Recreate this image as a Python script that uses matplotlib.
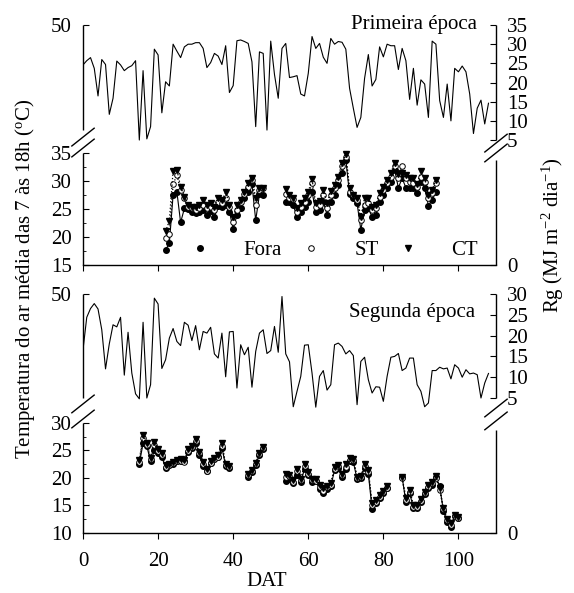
import numpy as np
import matplotlib
matplotlib.use('Agg')
import matplotlib.pyplot as plt
from matplotlib.lines import Line2D

plt.rcParams['font.family'] = 'Liberation Serif'
plt.rcParams['font.size'] = 15
plt.rcParams['mathtext.fontset'] = 'custom'
plt.rcParams['mathtext.rm'] = 'Liberation Serif'
plt.rcParams['mathtext.it'] = 'Liberation Serif:italic'

###---data---###
rg_days = np.arange(0, 109)

# Rg, primeira epoca (MJ m-2 dia-1)
rg_1 = [24.6, 25.7, 26.5, 23.7, 16.5, 26.0, 24.7, 11.7, 15.9, 25.6,
        24.6, 23.1, 23.9, 24.4, 25.7, 5.0, 23.1, 5.3, 8.5, 28.7,
        27.2, 12.1, 20.2, 19.1, 30.0, 28.2, 26.5, 29.3, 30.0, 30.0,
        30.4, 30.4, 28.9, 23.9, 25.2, 27.6, 26.9, 24.7, 29.6, 17.4,
        19.2, 30.9, 31.1, 30.7, 30.2, 25.4, 8.5, 28.0, 27.6, 7.6,
        30.8, 22.1, 15.9, 28.9, 30.2, 21.3, 21.5, 21.8, 17.0, 16.5,
        22.4, 32.0, 28.9, 30.2, 26.6, 25.0, 31.5, 30.0, 30.7, 30.5,
        28.7, 18.5, 13.3, 8.3, 10.9, 21.1, 27.3, 19.1, 20.8, 29.3,
        26.7, 30.0, 29.6, 29.6, 23.4, 28.9, 25.7, 15.6, 23.7, 14.1,
        20.7, 19.6, 10.9, 30.8, 30.0, 15.3, 10.9, 19.6, 10.0, 23.7,
        22.8, 24.3, 22.8, 17.0, 6.7, 13.3, 15.4, 9.2, 14.6]

# Rg, segunda epoca
rg_2 = [16.6, 24.4, 26.5, 27.7, 26.4, 21.4, 12.0, 18.0, 22.6, 22.1,
        24.4, 10.5, 20.8, 11.0, 6.0, 4.8, 23.2, 5.0, 8.2, 29.0,
        27.6, 12.1, 14.2, 19.4, 21.7, 18.6, 17.6, 23.2, 22.5, 18.8,
        22.4, 16.6, 21.0, 20.6, 22.0, 15.6, 14.6, 20.6, 10.1, 20.9,
        21.0, 7.4, 17.8, 15.4, 17.2, 7.6, 16.2, 20.6, 21.4, 15.7,
        16.4, 22.2, 16.0, 29.4, 15.6, 13.7, 2.9, 6.6, 10.2, 17.7,
        17.8, 11.0, 2.8, 10.2, 11.6, 6.9, 8.2, 17.8, 18.2, 17.4,
        15.6, 16.4, 15.2, 3.4, 13.8, 14.8, 9.4, 6.2, 7.7, 7.6,
        4.2, 10.2, 14.8, 15.0, 15.7, 11.6, 12.2, 14.6, 14.6, 8.2,
        6.6, 2.9, 3.8, 11.6, 11.6, 12.4, 12.0, 12.2, 9.6, 13.0,
        12.2, 10.0, 11.8, 10.8, 11.0, 10.6, 5.0, 8.6, 10.9]

# temperatura media, primeira epoca (DAT 22 a 94)
t1_days = np.arange(22, 95)
t1_fora = [17.7, 18.9, 27.5, 28.1, 22.6, 25.1, 25.0, 24.5, 24.2, 24.5,
           24.8, 23.9, 24.6, 23.6, 25.5, 25.4, 25.8, 24.5, 21.5, 23.9,
           25.1, 26.9, 28.1, 29.4, 23.0, 27.6, 27.5,
           None, None, None, None, None,
           26.3, 26.2, 25.7, 23.6, 24.5, 25.4, 26.3, 28.1, 24.5, 24.8,
           26.3, 24.0, 26.3, 27.5, 29.3, 31.4, 33.8, 27.6, 26.9, 26.0,
           21.3, 24.8, 25.1, 23.6, 23.9, 26.3, 27.5, 28.7, 29.9, 32.0,
           28.8, 30.5, 28.8, 28.8, 28.8, 27.9, 29.9, 28.8, 25.6, 26.6,
           28.1]
t1_st = [19.8, 20.5, 29.4, 31.1, 28.4, 26.9, 25.4, 25.2, 24.8, 25.1,
         25.7, 25.1, 25.4, 24.8, 26.2, 26.0, 26.9, 25.4, 22.6, 24.8,
         26.2, 27.6, 29.0, 30.2, 25.7, 28.4, 28.7,
         None, None, None, None, None,
         27.6, 26.9, 26.8, 24.5, 25.4, 26.3, 27.5, 29.6, 25.4, 25.7,
         27.5, 25.1, 27.5, 28.7, 30.2, 32.6, 34.3, 28.1, 27.5, 26.6,
         23.0, 25.7, 26.0, 24.8, 25.1, 27.2, 28.4, 29.6, 30.8, 32.6,
         30.5, 32.7, 30.5, 29.9, 29.6, 29.0, 30.8, 29.9, 26.9, 27.8,
         29.6]
t1_ct = [21.0, 22.9, 31.8, 32.0, 29.0, 27.2, 25.7, 25.4, 25.4, 25.7,
         26.6, 25.8, 26.0, 25.4, 26.9, 26.6, 28.0, 25.8, 23.5, 25.8,
         26.6, 28.1, 29.6, 30.5, 26.9, 28.8, 28.8,
         None, None, None, None, None,
         28.5, 27.5, 27.0, 25.1, 26.0, 26.9, 28.1, 30.3, 26.0, 26.4,
         28.4, 26.0, 28.2, 29.3, 30.8, 33.2, 34.8, 28.8, 27.5, 26.9,
         23.6, 27.0, 26.9, 25.4, 25.8, 27.8, 29.0, 30.2, 31.4, 33.3,
         31.2, 31.4, 31.1, 30.5, 30.6, 29.4, 31.8, 30.5, 27.5, 28.4,
         30.2]

# temperatura media, segunda epoca (DAT 15 a 100)
t2_days = np.arange(15, 101)
t2_fora = [22.6, 26.3, 25.8, 23.0, 25.0, 24.6, 23.8, 21.9, 22.3, 22.6,
           23.0, 23.1, 23.1, 24.7, 25.4, 26.4, 24.2, 22.2, 21.2, 22.8,
           23.4, 23.8, 25.5, 22.2, 21.8,
           None, None, None, None,
           20.2, 21.0, 22.4, 24.2, 25.2,
           None, None, None, None, None,
           19.5, 19.8, 19.0, 20.6, 19.3, 21.6, 20.5, 19.3, 19.4, 18.0,
           17.2, 18.0, 18.5, 21.4, 21.8, 20.2, 21.6, 23.0, 22.9, 19.8,
           20.0, 21.9, 20.8, 14.3, 15.4, 16.4, 17.2, 18.1,
           None, None, None,
           20.2, 15.6, 17.2, 14.6, 14.6, 15.7, 17.0, 18.2, 18.8, 20.2,
           18.5, 14.0, 12.0, 11.0, 13.0, 12.7]
t2_st = [22.9, 27.3, 26.0, 23.4, 26.0, 24.9, 24.1, 22.0, 22.4, 22.7,
         23.0, 23.1, 22.9, 24.9, 25.6, 26.7, 24.5, 22.5, 21.2, 22.7,
         23.4, 23.9, 25.8, 22.3, 22.0,
         None, None, None, None,
         20.5, 21.2, 22.6, 24.4, 25.4,
         None, None, None, None, None,
         20.2, 20.3, 19.3, 21.2, 19.6, 22.1, 20.8, 19.6, 19.5, 18.4,
         17.7, 18.3, 18.7, 21.7, 22.1, 20.5, 22.0, 23.3, 23.2, 20.0,
         20.2, 22.2, 21.1, 15.0, 15.6, 16.6, 17.4, 18.2,
         None, None, None,
         20.0, 16.0, 17.5, 14.8, 14.7, 15.9, 17.2, 18.4, 19.0, 20.0,
         17.9, 14.3, 12.3, 11.5, 13.1, 12.8]
t2_ct = [23.2, 27.9, 26.3, 23.7, 26.5, 25.3, 24.5, 22.3, 22.6, 22.9,
         23.3, 23.4, 23.3, 25.2, 25.9, 27.0, 24.8, 22.9, 21.6, 23.0,
         23.6, 24.1, 26.3, 22.5, 22.2,
         None, None, None, None,
         20.7, 21.5, 22.8, 24.6, 25.7,
         None, None, None, None, None,
         20.7, 20.6, 19.6, 21.6, 19.8, 22.5, 21.0, 19.9, 19.8, 18.8,
         18.2, 18.6, 19.0, 22.0, 22.4, 20.8, 22.5, 23.6, 23.5, 20.2,
         20.4, 22.5, 21.4, 15.4, 16.0, 16.9, 17.7, 18.5,
         None, None, None,
         20.1, 16.4, 17.8, 15.1, 15.0, 16.2, 17.5, 18.7, 19.2, 20.3,
         18.2, 14.5, 12.5, 11.8, 13.2, 12.9]

x_ticks = [0, 20, 40, 60, 80, 100]


def spine_seg(ax, x, y0, y1):
    ax.plot([x, x], [y0, y1], transform=ax.transAxes, color='k', lw=1.0,
            clip_on=False, solid_capstyle='butt')


def break_mark(ax, x, y):
    dx, dy = 0.027, 0.037
    ax.plot([x - dx, x + dx], [y - dy, y + dy], transform=ax.transAxes,
            color='k', lw=1.0, clip_on=False)


def setup_panel(ax, t_days, fora, st, ct, rg, t_lo, t_top, rg_lo, rg_top,
                left_seg, right_seg, left_brk, right_brk):
    ax.plot(t_days, np.array(fora, dtype=float), '-', color='k', lw=0.8,
            marker='o', ms=4, mec='k', mfc='k')
    ax.plot(t_days, np.array(st, dtype=float), ':', color='k', lw=0.9,
            marker='o', ms=4, mec='k', mfc='white', mew=0.7)
    ax.plot(t_days, np.array(ct, dtype=float), ':', color='k', lw=0.9,
            marker='v', ms=4.5, mec='k', mfc='k')
    ax.set_xlim(0, 110)
    ax.set_ylim(t_lo, t_top)
    major = list(range(t_lo, 36 if t_lo == 15 else 31, 5))
    ax.set_yticks(major + [t_top])
    ax.set_yticklabels([str(v) for v in major] + ['50'])
    ax.set_yticks(np.arange(t_lo + 2.5, major[-1], 2.5), minor=True)
    ax.tick_params(axis='y', which='major', direction='in', length=4, pad=8)
    ax.tick_params(axis='y', which='minor', direction='in', length=2.5)
    ax.set_xticks(x_ticks)
    ax.tick_params(axis='x', direction='out', length=4, pad=10)
    for s in ['top', 'left', 'right']:
        ax.spines[s].set_visible(False)
    ax.spines['bottom'].set_linewidth(1.0)

    axr = ax.twinx()
    axr.plot(rg_days, rg, '-', color='k', lw=0.8)
    axr.set_ylim(rg_lo, rg_top)
    rticks = list(range(5, rg_top + 1, 5))
    axr.set_yticks([rg_lo] + rticks)
    axr.set_yticklabels(['0'] + [str(v) for v in rticks])
    axr.tick_params(axis='y', direction='in', length=4, pad=8)
    for s in axr.spines.values():
        s.set_visible(False)

    spine_seg(ax, 0, left_seg[0], 1.0)
    spine_seg(ax, 0, 0, left_seg[1])
    spine_seg(ax, 1, right_seg[0], 1.0)
    spine_seg(ax, 1, 0, right_seg[1])
    for y in left_brk:
        break_mark(ax, 0, y)
    for y in right_brk:
        break_mark(ax, 1, y)
    return axr


fig = plt.figure(figsize=(5.74, 5.93), dpi=100)
ax1 = fig.add_axes([0.1446, 0.5531, 0.7195, 0.4047])
ax2 = fig.add_axes([0.1446, 0.1012, 0.7195, 0.4030])

setup_panel(ax1, t1_days, t1_fora, t1_st, t1_ct, rg_1, 15, 57.86, -27.6, 35,
            (0.5625, 0.4667), (0.5208, 0.4375), (0.533, 0.4875), (0.508, 0.467))
ax1.tick_params(axis='x', labelbottom=False)

setup_panel(ax2, t2_days, t2_fora, t2_st, t2_ct, rg_2, 10, 53.45, -27.45, 30,
            (0.565, 0.460), (0.565, 0.431), (0.540, 0.477), (0.523, 0.469))

handles = [Line2D([], [], ls='none', marker='o', ms=4, color='k'),
           Line2D([], [], ls='none', marker='o', ms=4, mec='k', mfc='white', mew=0.7),
           Line2D([], [], ls='none', marker='v', ms=4.5, color='k')]
ax1.legend(handles, ['Fora', 'ST', 'CT'], ncol=3, loc='center left',
           bbox_to_anchor=(0.258, 0.0625), frameon=False, handlelength=1.0,
           handletextpad=1.57, columnspacing=0.92, borderpad=0, borderaxespad=0)

fig.text(477 / 574, 1 - 25 / 593, 'Primeira época', ha='right', va='center')
fig.text(475 / 574, 1 - 313 / 593, 'Segunda época', ha='right', va='center')
fig.text(25 / 574, 0.529, 'Temperatura do ar média das 7 às 18h ($^{\\rm o}$C)',
         rotation=90, ha='center', va='center')
fig.text(553 / 574, 0.604, 'Rg (MJ m$^{-2}$ dia$^{-1}$)',
         rotation=90, ha='center', va='center')
fig.text(267 / 574, 2 / 593, 'DAT', ha='center', va='bottom')

fig.savefig('out.png', dpi=100)
